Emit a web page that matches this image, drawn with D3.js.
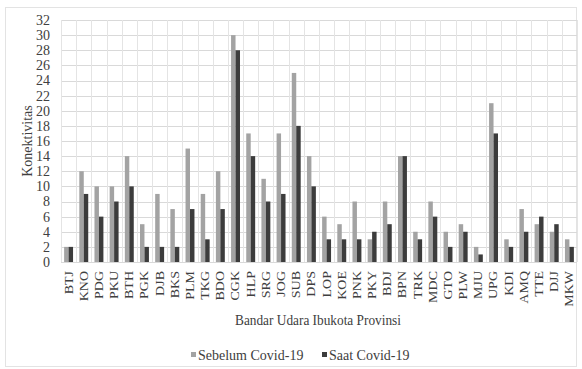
<!DOCTYPE html>
<html>
<head>
<meta charset="utf-8">
<script src="https://cdn.jsdelivr.net/npm/d3@7"></script>
<style>
  html, body { margin: 0; padding: 0; background: #fff; }
  svg { display: block; }
  text { font-family: "Liberation Serif", "DejaVu Serif", serif; fill: #404040; }
</style>
</head>
<body>
<script>
const categories = ["BTJ","KNO","PDG","PKU","BTH","PGK","DJB","BKS","PLM","TKG","BDO","CGK","HLP","SRG","JOG","SUB","DPS","LOP","KOE","PNK","PKY","BDJ","BPN","TRK","MDC","GTO","PLW","MJU","UPG","KDI","AMQ","TTE","DJJ","MKW"];
const sebelum = [2,12,10,10,14,5,9,7,15,9,12,30,17,11,17,25,14,6,5,8,3,8,14,4,8,4,5,2,21,3,7,5,4,3];
const saat    = [2,9,6,8,10,2,2,2,7,3,7,28,14,8,9,18,10,3,3,3,4,5,14,3,6,2,4,1,17,2,4,6,5,2];
const seriesNames = ["Sebelum Covid-19", "Saat Covid-19"];
const yTicks = d3.range(0, 33, 2);

const W = 582, H = 369;
const margin = { left: 61, right: 5, top: 20, bottom: 107 };
const colors = ["#a3a3a3", "#3c3c3c"];

const svg = d3.select("body").append("svg").attr("width", W).attr("height", H);

// chart border
svg.append("rect").attr("x", 5.5).attr("y", 7.5).attr("width", 571).attr("height", 359)
  .attr("fill", "none").attr("stroke", "#e3e3e3");

const x = d3.scaleBand().domain(categories).range([margin.left, W - margin.right]).paddingInner(0).paddingOuter(0);
const x1 = d3.scaleBand().domain([0, 1]).range([0, x.bandwidth()]).paddingInner(0).paddingOuter(0.7);
const y = d3.scaleLinear().domain([0, 32]).range([H - margin.bottom, margin.top]);

// horizontal gridlines
svg.append("g").selectAll("line").data(yTicks).join("line")
  .attr("x1", margin.left).attr("x2", W - margin.right)
  .attr("y1", d => Math.round(y(d)) + 0.5).attr("y2", d => Math.round(y(d)) + 0.5)
  .attr("stroke", "#d9d9d9");
// vertical gridlines at category boundaries
const bounds = categories.map(c => x(c)).concat([x(categories[categories.length - 1]) + x.bandwidth()]);
svg.append("g").selectAll("line").data(bounds).join("line")
  .attr("x1", d => Math.round(d) + 0.5).attr("x2", d => Math.round(d) + 0.5)
  .attr("y1", y(32)).attr("y2", y(0))
  .attr("stroke", "#e4e4e4");

// bars
const data = categories.map((c, i) => ({ c, v: [sebelum[i], saat[i]] }));
const groups = svg.append("g").selectAll("g").data(data).join("g")
  .attr("transform", d => `translate(${x(d.c)},0)`);
groups.selectAll("rect").data(d => d.v.map((v, k) => ({ v, k }))).join("rect")
  .attr("x", d => x1(d.k))
  .attr("width", x1.bandwidth())
  .attr("y", d => y(d.v))
  .attr("height", d => y(0) - y(d.v))
  .attr("fill", d => colors[d.k]);

// y axis labels
const yAxis = d3.axisLeft(y).tickValues(yTicks).tickSize(0).tickPadding(11);
const gy = svg.append("g").attr("transform", `translate(${margin.left},0)`).call(yAxis);
gy.select(".domain").remove();
gy.selectAll("text").attr("font-size", 14).attr("fill", "#404040")
  .attr("font-family", "Liberation Serif, serif");

// x axis labels
const xAxis = d3.axisBottom(x).tickSize(0).tickPadding(0);
const gx = svg.append("g").attr("transform", `translate(0,${y(0)})`).call(xAxis);
gx.select(".domain").remove();
gx.selectAll("text")
  .attr("font-size", 14).attr("fill", "#404040")
  .attr("font-family", "Liberation Serif, serif")
  .attr("text-anchor", "end")
  .attr("transform", "rotate(-90) scale(1,0.85)")
  .attr("x", -9).attr("y", 0).attr("dy", "0.33em");

// axis titles
svg.append("text").attr("x", 318).attr("y", 325).attr("text-anchor", "middle")
  .attr("font-size", 14).attr("textLength", 166).attr("lengthAdjust", "spacingAndGlyphs")
  .text("Bandar Udara Ibukota Provinsi");
svg.append("text").attr("transform", `translate(32,${(y(0) + y(32)) / 2}) rotate(-90)`)
  .attr("text-anchor", "middle").attr("font-size", 14).text("Konektivitas");

// legend
const legendItems = [{ name: seriesNames[0], x: 191 }, { name: seriesNames[1], x: 322 }];
const lg = svg.append("g").selectAll("g").data(legendItems).join("g")
  .attr("transform", d => `translate(${d.x},360)`);
lg.append("rect").attr("x", 0).attr("y", -8).attr("width", 5).attr("height", 5)
  .attr("fill", (d, i) => colors[i]);
lg.append("text").attr("x", 7).attr("y", 0).attr("font-size", 14).text(d => d.name);
</script>
</body>
</html>
